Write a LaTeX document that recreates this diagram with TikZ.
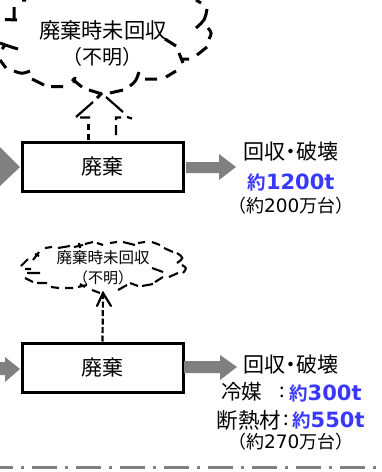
\documentclass[tikz,border=0pt]{standalone}
\usepackage{fontspec}
\setmainfont{Noto Sans CJK JP}
\newfontfamily\latinbold{DejaVu Sans Bold}
\newfontfamily\latinreg{DejaVu Sans}
\newfontfamily\cjkbold{Noto Sans CJK JP Bold}
\definecolor{flowgray}{HTML}{808080}
\definecolor{numblue}{HTML}{3838FF}
\newcommand{\fs}[1]{\fontsize{#1}{#1}\selectfont}
\newcommand{\amount}[1]{{\fs{18.5}\cjkbold 約}{\latinbold\fs{21}#1}}
\newcommand{\units}[2]{{\fs{18}（約}{\kern-0.5pt\latinreg\fs{18.5}#1}{\fs{18}万台）}}
\newcommand{\recover}{回収\kern-5pt・\kern-5pt破壊}
\begin{document}
\begin{tikzpicture}[x=1pt,y=-1pt,
  procbox/.style={draw=black,line width=3pt,fill=white,minimum width=161pt,minimum height=49pt,inner sep=0pt,font=\fs{21}},
  flow/.style={fill=flowgray,draw=none},
  cloudline/.style={draw=black,line width=3pt},
  smallcloud/.style={draw=black,line width=2.1pt},
  lbl/.style={inner sep=0pt,font=\fs{21}},
  sectionrule/.style={draw=flowgray,line width=3pt,dash pattern=on 25pt off 8pt on 3pt off 8pt}]
\useasboundingbox (0,0) rectangle (382,472);
% top cloud, stroke by stroke
\draw[cloudline]
  (5,19.5) -- (17,20) (14,7) -- (14,20) (22,0) -- (26,0)
  (0,43) .. controls (8,46) .. (18,49) (2,49) -- (5,45)
  (0,60) -- (6,68)
  (14,71) .. controls (22,74) .. (30,71)
  (32,79) -- (44,85)
  (51,86.5) -- (63,86.5)
  (72,79) -- (82,87) (75,77) -- (74,83)
  (89,90) -- (102,94) (97,98) -- (102,93)
  (110,93) -- (123,90)
  (130,86) .. controls (136,81) .. (139,72)
  (145,79) -- (157,79)
  (166,77) -- (176,71)
  (165,39) -- (176,46)
  (179,53) -- (183,63) (181,59) -- (189,59)
  (197,55) -- (207,47)
  (208,28) .. controls (212,33) .. (209,39)
  (196,28) .. controls (205,20) .. (207,9)
  (196,0) -- (201,3);
% top block arrow
\draw[line width=2.2pt]
  (80,117.5) -- (90,117.5)
  (76,117) -- (93,102)
  (106,97) -- (123,112)
  (127,117) -- (132,118.5)
  (116,120) -- (116,117.5) -- (121,117.5)
  (116,135) -- (116,125);
\draw[line width=2.2pt,dash pattern=on 6pt off 4pt] (88.5,140) -- (88.5,121);
\node[inner sep=0pt,font=\fs{21.3}] (t1) at (103,30) {廃棄時未回収};
\node[inner sep=0pt,font=\fs{20}] (t2) at (103,57) {（不明）};
% box 1
\node[procbox] (box1) at (102.5,167) {廃棄};
\fill[flow] (0,147) -- (20,167) -- (0,186) -- cycle;
\fill[flow] (186,162) -- (219,162) -- (219,154) -- (236,167) -- (219,180) -- (219,173) -- (186,173) -- cycle;
\node[lbl] (r1) at (291,152) {\recover};
\node[lbl,text=numblue] (v1) at (291,182) {\amount{1200t}};
\node[lbl] (c1) at (291,206) {\units{200}{}};
% small cloud, stroke by stroke
\draw[smallcloud]
  (21,266) -- (28,259) (33,260) -- (39,252) (35,254) -- (39,256)
  (45,248) -- (52,247) (58,248) -- (70,246)
  (74,247) -- (83,245) (79,243) -- (80,248)
  (85,244) -- (93,242) (97,243) -- (103,245)
  (110,243) -- (117,242) (123,242) -- (135,245)
  (138,243) -- (145,242) (152,242) -- (160,245)
  (164,248) -- (173,252)
  (177,253) .. controls (184,258) .. (177,263)
  (182,265) .. controls (187,268) .. (183,273)
  (25,269) -- (31,269) (27,273) -- (40,273)
  (25,278) -- (33,282) (37,283) -- (47,283)
  (51,287) -- (59,288) (65,288) -- (73,288)
  (78,287) -- (87,285) (80,284) -- (85,287)
  (92,290) -- (100,293)
  (118,290) -- (127,285) (130,283) -- (138,286)
  (142,286) -- (153,284) (155,282) -- (163,277)
  (169,277) -- (178,273) (152,268) -- (163,272);
\node[inner sep=0pt,font=\fs{15.5}] (s1) at (103,258) {廃棄時未回収};
\node[inner sep=0pt,font=\fs{15}] (s2) at (103,278) {（不明）};
% box 2
\node[procbox] (box2) at (102.5,367.5) {廃棄};
\coordinate (tip) at (103,293);
\draw[line width=2.2pt,dash pattern=on 6pt off 2.5pt] (box2.north) -- (tip);
\draw[line width=2.2pt,line cap=round] (97,306) -- (tip) -- (111,306);
\fill[flow] (0,362) -- (5,362) -- (5,357) -- (20,369) -- (5,382) -- (5,375) -- (0,375) -- cycle;
\fill[flow] (184,361) -- (220,361) -- (220,355) -- (237,367) -- (220,380) -- (220,373) -- (184,373) -- cycle;
\node[lbl] (r2) at (291,365) {\recover};
\node[lbl,font=\fs{20.5},anchor=west] (k1) at (221,392) {冷媒};
\node[lbl,font=\fs{20}] (k2) at (282,392) {:};
\node[lbl,anchor=west,text=numblue] (v2) at (289,393) {\amount{300t}};
\node[lbl,font=\fs{21.5},anchor=west] (k3) at (216.5,420) {断熱材};
\node[lbl,font=\fs{20}] (k4) at (286,420) {:};
\node[lbl,anchor=west,text=numblue] (v3) at (292,420) {\amount{550t}};
\node[lbl] (c2) at (291,442) {\units{270}{}};
% rule
\coordinate (ra) at (-12,467); \coordinate (rb) at (382,467);
\draw[sectionrule] (ra) -- (rb);
\end{tikzpicture}
\end{document}
